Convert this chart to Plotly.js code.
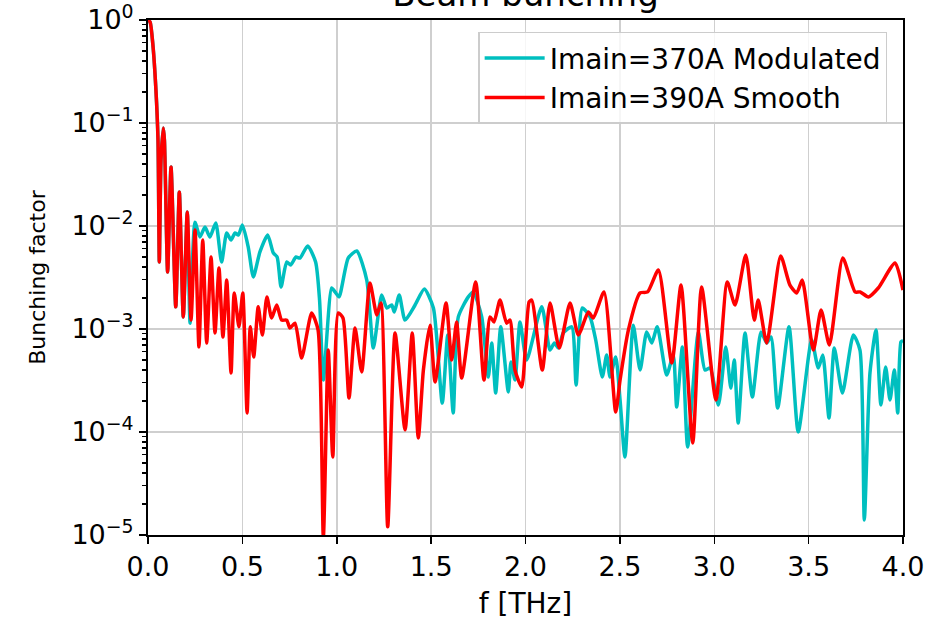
<!DOCTYPE html>
<html>
<head>
<meta charset="utf-8">
<script src="https://cdn.plot.ly/plotly-3.0.1.min.js"></script>
<style>html,body{margin:0;padding:0;background:#fff;}#chart{width:946px;height:620px;}</style>
</head>
<body>
<div id="chart"></div>
<script>
// Frequency axis values [THz] and bunching factors
var redX = [0, 0.011, 0.026, 0.042, 0.053, 0.060, 0.069, 0.081, 0.087, 0.104, 0.122, 0.147, 0.166, 0.187, 0.208, 0.228, 0.249, 0.270, 0.290, 0.311, 0.334, 0.355, 0.376, 0.397, 0.417, 0.440, 0.457, 0.482, 0.502, 0.525, 0.542, 0.560, 0.584, 0.606, 0.630, 0.655, 0.682, 0.708, 0.735, 0.752, 0.779, 0.814, 0.867, 0.901, 0.929, 0.955, 0.979, 1.008, 1.033, 1.065, 1.097, 1.132, 1.176, 1.212, 1.234, 1.270, 1.309, 1.362, 1.400, 1.432, 1.459, 1.494, 1.521, 1.579, 1.609, 1.635, 1.662, 1.736, 1.780, 1.812, 1.833, 1.865, 1.900, 1.918, 1.944, 1.980, 2.019, 2.033, 2.089, 2.130, 2.179, 2.236, 2.280, 2.333, 2.359, 2.416, 2.478, 2.501, 2.545, 2.607, 2.647, 2.704, 2.775, 2.824, 2.886, 2.933, 3.009, 3.069, 3.110, 3.167, 3.212, 3.233, 3.278, 3.352, 3.401, 3.437, 3.466, 3.525, 3.566, 3.610, 3.681, 3.746, 3.773, 3.817, 3.869, 3.958, 4.0];
var redY = [1.0, 0.956, 0.571, 0.209, 0.0684, 0.00447, 0.0437, 0.0894, 0.0684, 0.00357, 0.0374, 0.00164, 0.0214, 0.00131, 0.0137, 0.00122, 0.00915, 0.000668, 0.00731, 0.000731, 0.00500, 0.000915, 0.00391, 0.000836, 0.00299, 0.000374, 0.00224, 0.00105, 0.00224, 0.000153, 0.00105, 0.000535, 0.00164, 0.000875, 0.00205, 0.00128, 0.00171, 0.00122, 0.00122, 0.00102, 0.00114, 0.000523, 0.00143, 0.000977, 0.0000095, 0.000625, 0.0000571, 0.00143, 0.00128, 0.000214, 0.00102, 0.000383, 0.00280, 0.00137, 0.00179, 0.0000120, 0.000915, 0.000105, 0.000915, 0.0000875, 0.000400, 0.00109, 0.000306, 0.00179, 0.000500, 0.00117, 0.000334, 0.00286, 0.000320, 0.00131, 0.00117, 0.00191, 0.00114, 0.00122, 0.000400, 0.000274, 0.00183, 0.00191, 0.000400, 0.00179, 0.000654, 0.00179, 0.000875, 0.00146, 0.00128, 0.00229, 0.000156, 0.000320, 0.000977, 0.00224, 0.00229, 0.00374, 0.000468, 0.00267, 0.0000782, 0.00256, 0.000205, 0.00286, 0.00171, 0.00522, 0.00122, 0.00191, 0.000731, 0.00512, 0.00267, 0.00224, 0.00299, 0.000625, 0.00153, 0.000700, 0.00489, 0.00229, 0.00229, 0.00205, 0.00250, 0.00438, 0.00239];

var tealX = [0, 0.011, 0.026, 0.042, 0.053, 0.060, 0.069, 0.081, 0.087, 0.104, 0.122, 0.147, 0.166, 0.187, 0.208, 0.223, 0.249, 0.275, 0.302, 0.328, 0.359, 0.390, 0.417, 0.440, 0.461, 0.479, 0.500, 0.531, 0.558, 0.593, 0.634, 0.664, 0.684, 0.705, 0.735, 0.756, 0.784, 0.805, 0.846, 0.888, 0.909, 0.929, 0.973, 0.991, 1.012, 1.061, 1.106, 1.159, 1.194, 1.238, 1.265, 1.291, 1.305, 1.331, 1.362, 1.415, 1.464, 1.512, 1.559, 1.588, 1.617, 1.644, 1.697, 1.723, 1.768, 1.803, 1.821, 1.842, 1.869, 1.909, 1.923, 1.944, 1.971, 2.006, 2.086, 2.130, 2.153, 2.174, 2.200, 2.245, 2.268, 2.301, 2.342, 2.372, 2.407, 2.430, 2.448, 2.478, 2.501, 2.527, 2.571, 2.607, 2.642, 2.669, 2.698, 2.748, 2.783, 2.801, 2.831, 2.859, 2.916, 2.951, 2.978, 3.022, 3.061, 3.088, 3.106, 3.127, 3.163, 3.202, 3.248, 3.278, 3.301, 3.336, 3.396, 3.445, 3.516, 3.551, 3.575, 3.608, 3.636, 3.679, 3.737, 3.772, 3.795, 3.825, 3.857, 3.883, 3.908, 3.931, 3.954, 3.972, 3.989, 4.0];
var tealY = [1.0, 0.956, 0.571, 0.209, 0.0684, 0.00447, 0.0437, 0.0894, 0.0684, 0.00357, 0.0374, 0.00164, 0.0214, 0.00131, 0.0137, 0.00114, 0.0109, 0.00782, 0.00977, 0.00782, 0.0107, 0.00447, 0.00855, 0.00731, 0.00855, 0.00818, 0.0102, 0.00625, 0.00320, 0.00560, 0.00818, 0.00547, 0.00500, 0.00256, 0.00447, 0.00418, 0.00500, 0.00488, 0.00640, 0.00447, 0.00191, 0.000320, 0.00250, 0.00229, 0.00205, 0.00489, 0.00572, 0.00299, 0.000654, 0.00214, 0.00160, 0.00171, 0.00146, 0.00214, 0.00122, 0.00171, 0.00244, 0.00160, 0.000191, 0.000875, 0.000153, 0.00131, 0.00205, 0.00229, 0.00131, 0.000342, 0.000731, 0.000239, 0.00105, 0.000245, 0.000479, 0.000320, 0.00117, 0.000500, 0.00164, 0.000625, 0.000731, 0.000654, 0.000915, 0.00105, 0.000286, 0.00160, 0.00131, 0.000782, 0.000342, 0.000560, 0.000342, 0.000535, 0.000205, 0.0000571, 0.00109, 0.000400, 0.000935, 0.000731, 0.00105, 0.000357, 0.000560, 0.000175, 0.000668, 0.0000715, 0.000935, 0.000400, 0.000419, 0.000183, 0.000668, 0.000267, 0.000500, 0.000122, 0.000915, 0.000219, 0.000935, 0.000731, 0.000836, 0.000171, 0.00105, 0.000100, 0.000782, 0.000418, 0.000560, 0.000137, 0.000654, 0.000239, 0.000875, 0.000625, 0.0000140, 0.000374, 0.000977, 0.000183, 0.000428, 0.000205, 0.000400, 0.000153, 0.000748, 0.00077];

var seriesNames = ["Imain=370A Modulated", "Imain=390A Smooth"];
var xTickVals = [0, 0.5, 1.0, 1.5, 2.0, 2.5, 3.0, 3.5, 4.0];
var xTickText = ["0.0", "0.5", "1.0", "1.5", "2.0", "2.5", "3.0", "3.5", "4.0"];
var yTickVals = [1e-5, 1e-4, 1e-3, 1e-2, 1e-1, 1];
var yTickText = ["10<sup>\u22125</sup>", "10<sup>\u22124</sup>", "10<sup>\u22123</sup>", "10<sup>\u22122</sup>", "10<sup>\u22121</sup>", "10<sup>0</sup>"];

var minorVals = [];
for (var d = -5; d < 0; d++) { for (var m = 2; m <= 9; m++) { minorVals.push(m * Math.pow(10, d)); } }

var font = "DejaVu Sans, sans-serif";
var traces = [
  {x: tealX, y: tealY, type: "scatter", mode: "lines", name: seriesNames[0],
   line: {color: "#00bfbf", width: 3.5, shape: "spline", smoothing: 0.6}},
  {x: redX, y: redY, type: "scatter", mode: "lines", name: seriesNames[1],
   line: {color: "#ff0000", width: 3.5, shape: "spline", smoothing: 0.6}}
];

var layout = {
  width: 946, height: 620,
  margin: {l: 148, r: 43, t: 20, b: 85},
  paper_bgcolor: "#ffffff", plot_bgcolor: "#ffffff",
  font: {family: font, size: 27, color: "#000"},
  title: {text: "Beam bunching", font: {family: font, size: 34, color: "#000"},
          x: 0.5555, xanchor: "center", yref: "container", y: 0.99, yanchor: "bottom"},
  showlegend: true,
  legend: {x: 0.979, xanchor: "right", y: 0.977, yanchor: "top", itemwidth: 60,
           bgcolor: "rgba(255,255,255,0.8)", bordercolor: "#cccccc", borderwidth: 1.5,
           font: {family: font, size: 28, color: "#000"}},
  xaxis: {range: [0, 4], tickmode: "array", tickvals: xTickVals, ticktext: xTickText,
          ticks: "outside", ticklen: 7, tickwidth: 1.5, tickcolor: "#000",
          showline: true, linecolor: "#000", linewidth: 2, mirror: true,
          showgrid: true, gridcolor: "#cfcfcf", gridwidth: 1.5, zeroline: false,
          title: {text: "f [THz]", font: {family: font, size: 28}, standoff: 15},
          tickfont: {family: font, size: 27}},
  yaxis: {type: "log", range: [-5, 0], tickmode: "array", tickvals: yTickVals, ticktext: yTickText,
          ticks: "outside", ticklen: 7, tickwidth: 1.5, tickcolor: "#000",
          showline: true, linecolor: "#000", linewidth: 2, mirror: true,
          showgrid: true, gridcolor: "#cfcfcf", gridwidth: 1.5, zeroline: false,
          minor: {tickmode: "array", tickvals: minorVals, ticks: "outside", ticklen: 4, tickwidth: 1.2, tickcolor: "#000", showgrid: false},
          title: {text: "Bunching factor", font: {family: font, size: 22}, standoff: 20},
          tickfont: {family: font, size: 27}}
};

Plotly.newPlot("chart", traces, layout, {staticPlot: true, displayModeBar: false});
</script>
</body>
</html>
